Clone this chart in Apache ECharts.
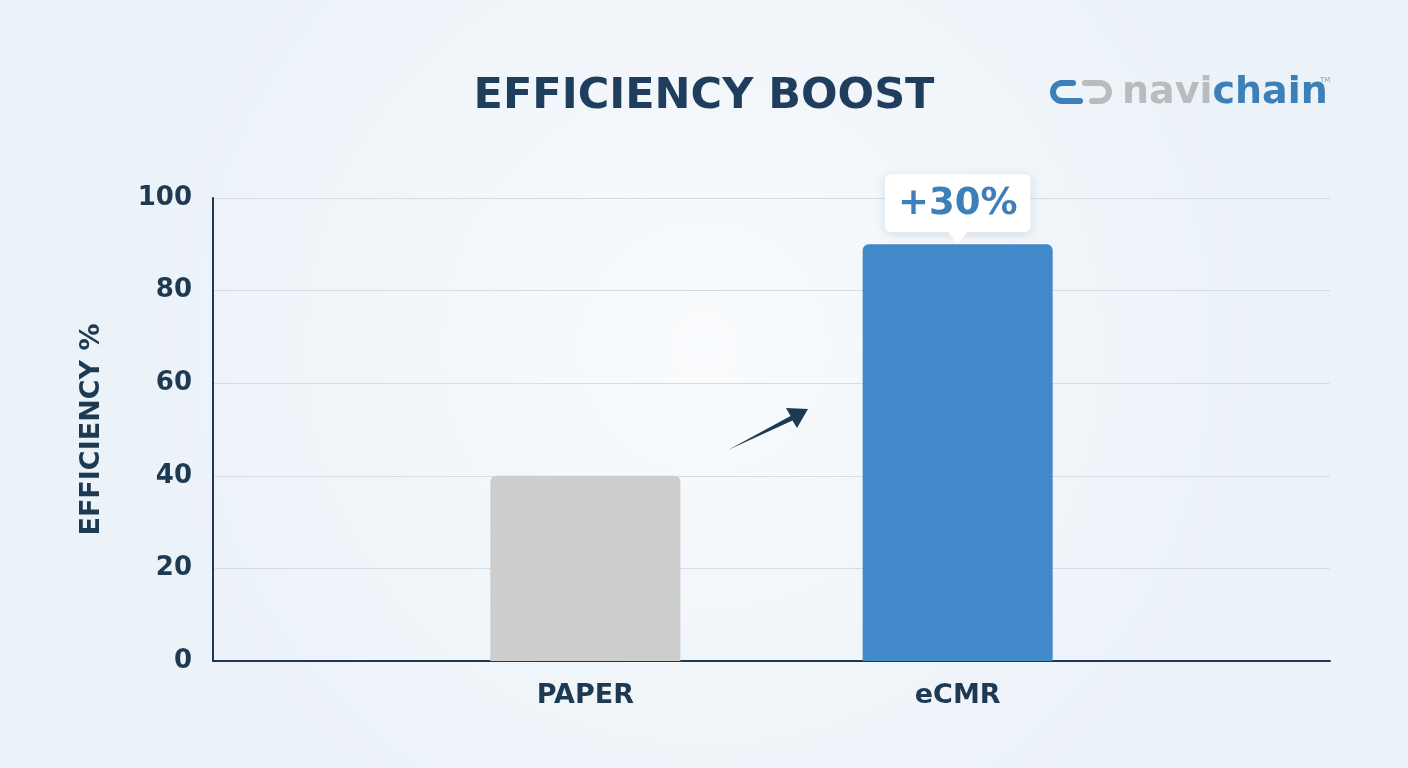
<!DOCTYPE html>
<html><head><meta charset="utf-8">
<script src="https://cdn.jsdelivr.net/npm/echarts@6/dist/echarts.min.js"></script>
<style>html,body{margin:0;padding:0;}#c{width:1408px;height:768px;}</style>
</head><body><div id="c"></div>
<script>
const categories = ['', 'PAPER', 'eCMR', ''];
const efficiency = [null, 40, 90, null];
const barColors = [null, '#cdcdcd', '#4189c9', null];
const yTicks = [0, 20, 40, 60, 80, 100];
const boostLabel = '+30%';
const titleText = 'EFFICIENCY BOOST';
const yName = 'EFFICIENCY %';

const navy = '#1e3a52';
const chart = echarts.init(document.getElementById('c'));
const F = '"DejaVu Sans", sans-serif';
const blue = '#3d7fb8', gray = '#b9bcbf';
const iconStyle = c => ({stroke: c, lineWidth: 6, fill: null, lineCap: 'round'});

chart.setOption({
  backgroundColor: {
    type: 'radial', x: 0.5, y: 0.45, r: 0.75,
    colorStops: [{offset: 0, color: '#f9fbfd'}, {offset: 1, color: '#ebf2f8'}]
  },
  title: {
    text: titleText, left: 699, top: 70, textAlign: 'center',
    textStyle: {fontFamily: F, fontSize: 43, fontWeight: 'bold', color: '#1f3d5c'}
  },
  grid: {left: 213, right: 78, top: 198, bottom: 107},
  xAxis: {
    type: 'category', data: categories, boundaryGap: false,
    axisLine: {lineStyle: {color: navy, width: 2}},
    axisTick: {show: false},
    axisLabel: {fontFamily: F, fontSize: 27, fontWeight: 'bold', color: navy, margin: 21},
    splitLine: {show: false}
  },
  yAxis: {
    type: 'value', min: yTicks[0], max: yTicks[yTicks.length - 1], interval: 20,
    name: yName, nameLocation: 'middle', nameGap: 108, nameRotate: 90,
    nameTextStyle: {fontFamily: F, fontSize: 27, fontWeight: 'bold', color: navy},
    axisLine: {show: true, lineStyle: {color: navy, width: 2}},
    axisTick: {show: false},
    axisLabel: {fontFamily: F, fontSize: 26, fontWeight: 'bold', color: navy, margin: 21},
    splitLine: {lineStyle: {color: '#d5dce3', width: 1}}
  },
  series: [{
    type: 'bar', barWidth: 190,
    data: efficiency.map((v, i) => v === null ? null : {
      value: v,
      itemStyle: {color: barColors[i], borderRadius: [6, 6, 0, 0]},
      label: i === 2 ? {
        show: true, position: 'top', distance: 12,
        formatter: boostLabel,
        fontFamily: F, fontSize: 37, fontWeight: 'bold', color: blue,
        backgroundColor: '#ffffff', borderRadius: 6, padding: [12, 13, 9, 13],
        shadowColor: 'rgba(30,58,82,0.15)', shadowBlur: 10, shadowOffsetY: 2
      } : {show: false}
    }),
    markPoint: {
      silent: true,
      symbol: 'triangle', symbolRotate: 180, symbolSize: [22, 14],
      symbolOffset: [0, -7],
      itemStyle: {color: '#ffffff'},
      label: {show: false},
      data: [{coord: ['eCMR', efficiency[2]]}]
    }
  }],
  graphic: [
    { type: 'polygon', silent: true,
      shape: {points: [[728, 450], [792.5, 420.5], [797, 428], [808, 409], [786, 408], [790.5, 416]]},
      style: {fill: '#1e3a52'} },
    { type: 'arc', silent: true,
      shape: {cx: 1062, cy: 92, r: 9, startAngle: Math.PI / 2, endAngle: Math.PI * 1.5, clockwise: true},
      style: iconStyle(blue) },
    { type: 'polyline', silent: true, shape: {points: [[1062, 83], [1073, 83]]}, style: iconStyle(blue) },
    { type: 'polyline', silent: true, shape: {points: [[1062, 101], [1080, 101]]}, style: iconStyle(blue) },
    { type: 'arc', silent: true,
      shape: {cx: 1100, cy: 92, r: 9, startAngle: -Math.PI / 2, endAngle: Math.PI / 2, clockwise: true},
      style: iconStyle(gray) },
    { type: 'polyline', silent: true, shape: {points: [[1085, 83], [1100, 83]]}, style: iconStyle(gray) },
    { type: 'polyline', silent: true, shape: {points: [[1092, 101], [1100, 101]]}, style: iconStyle(gray) },
    { type: 'text', silent: true, left: 1122, top: 74,
      style: {
        text: '{a|navi}{b|chain}',
        rich: {
          a: {fontFamily: F, fontSize: 38, fontWeight: 'bold', fill: gray, color: gray},
          b: {fontFamily: F, fontSize: 38, fontWeight: 'bold', fill: blue, color: blue}
        }
      } },
    { type: 'text', silent: true, left: 1320, top: 77,
      style: {text: 'TM', fontFamily: F, fontSize: 7, fill: '#8a9aa8'} }
  ]
});
</script></body></html>
